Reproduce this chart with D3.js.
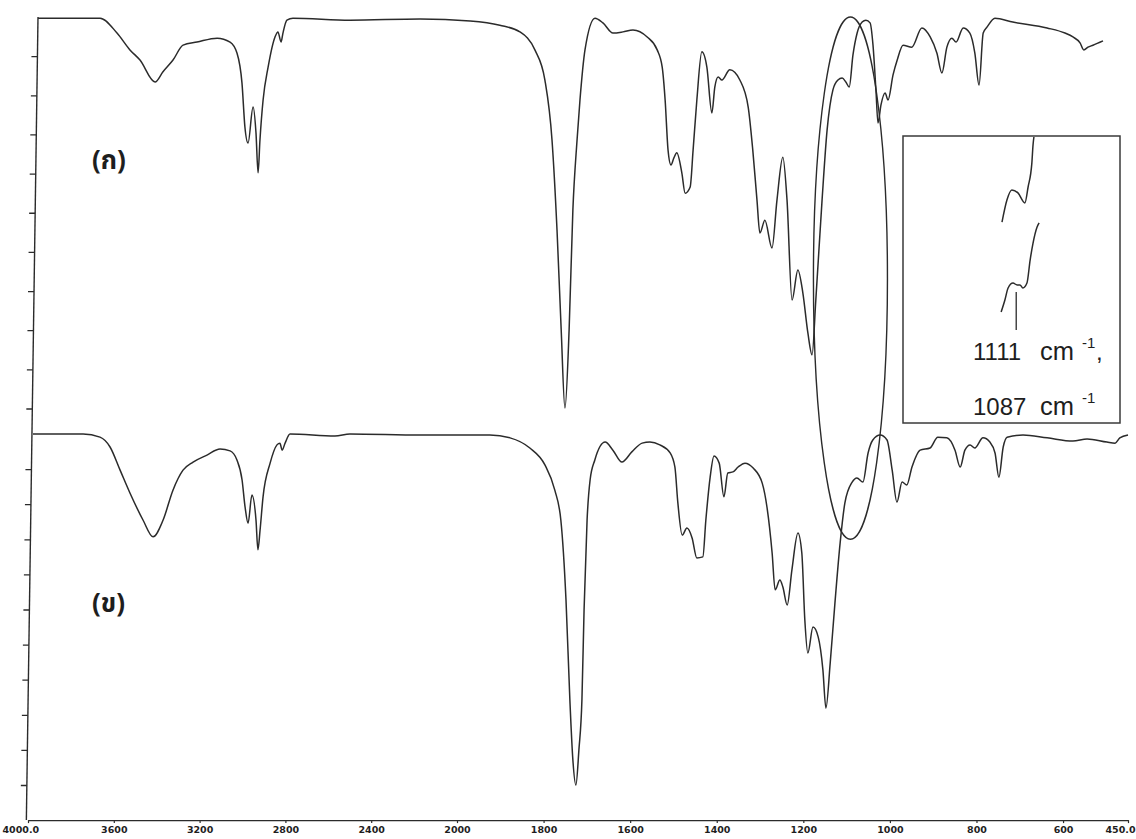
<!DOCTYPE html>
<html>
<head>
<meta charset="utf-8">
<script src="https://cdn.jsdelivr.net/npm/d3@7"></script>
<style>
  html, body { margin: 0; padding: 0; background: #fff; }
  svg { display: block; }
</style>
</head>
<body>
<svg id="chart" width="1136" height="839"></svg>
<script>
// FT-IR spectra, [wavenumber (cm-1), transmittance (%)]
// (ก) upper spectrum
const spectrumA = [
  [4000,99.7],[3847,99.7],[3703,99.7],[3622,95.9],[3560,91.6],[3512,89.0],[3440,83.4],[3402,86.0],
  [3354,89.0],[3306,92.8],[3239,93.6],[3143,94.6],[3081,93.6],[3048,90.8],[3024,83.1],[3010,71.9],
  [2995,67.8],[2971,77.0],[2957,70.4],[2947,60.2],[2938,68.6],[2923,78.8],[2899,87.2],[2866,94.9],
  [2852,96.2],[2837,93.6],[2828,95.9],[2809,99.2],[2780,99.7],[2507,99.2],[2172,99.5],[1966,99.0],
  [1895,97.9],[1847,96.2],[1811,91.6],[1787,83.9],[1770,68.6],[1758,45.6],[1748,20.1],[1739,0.1],
  [1729,20.1],[1720,50.7],[1710,68.6],[1703,78.8],[1691,91.6],[1667,99.7],[1648,98.5],[1624,95.9],
  [1600,96.2],[1576,96.7],[1542,94.9],[1518,91.6],[1506,87.2],[1499,78.8],[1492,66.0],[1485,62.2],
  [1478,64.0],[1471,65.3],[1459,60.2],[1451,55.0],[1439,56.6],[1432,66.0],[1423,78.8],[1411,91.1],
  [1399,87.2],[1387,75.5],[1380,82.1],[1372,84.7],[1363,83.9],[1344,86.5],[1320,83.9],[1300,77.0],
  [1289,66.0],[1279,53.3],[1272,44.8],[1260,48.1],[1243,41.0],[1231,53.3],[1217,64.2],[1207,53.3],
  [1195,27.7],[1181,35.4],[1169,29.5],[1157,19.3],[1147,13.7],[1138,27.7],[1123,53.3],[1111,71.1],
  [1097,81.4],[1085,83.9],[1075,84.4],[1066,83.4],[1058,82.1],[1049,90.3],[1039,95.9],[1027,98.7],
  [1018,99.2],[1008,98.5],[1001,92.8],[994,81.4],[989,72.9],[982,77.5],[972,80.6],[965,78.8],
  [953,85.2],[943,89.0],[929,92.8],[908,92.3],[884,97.2],[864,94.9],[848,90.8],[836,85.7],
  [824,92.3],[812,94.6],[802,93.6],[785,97.2],[769,95.9],[757,90.8],[747,82.6],[737,95.9],
  [728,97.4],[709,99.7],[666,98.7],[584,97.2],[541,95.9],[522,94.9],[505,93.4],[496,91.6],
  [486,92.3],[474,92.8],[450,93.9]
];

// (ข) lower spectrum
const spectrumB = [
  [4000,100],[3766,100],[3687,99.1],[3640,96.3],[3593,89.7],[3547,83.2],[3486,75.5],[3439,70.7],
  [3392,75.5],[3346,84.0],[3299,89.7],[3252,92.0],[3187,94.0],[3126,95.7],[3079,95.2],[3047,92.6],
  [3023,86.9],[3009,79.2],[2995,74.6],[2977,82.6],[2958,75.5],[2949,67.0],[2939,72.6],[2925,82.1],
  [2892,91.7],[2860,96.9],[2846,97.4],[2836,95.4],[2822,97.4],[2799,100],[2589,99.4],[2519,100],
  [2191,99.7],[1933,99.7],[1886,98.9],[1840,96.0],[1805,91.2],[1782,84.0],[1768,75.5],[1756,52.7],
  [1747,24.2],[1740,7.1],[1733,0],[1726,10.0],[1719,24.2],[1714,49.9],[1707,75.5],[1700,86.9],
  [1689,92.6],[1665,97.7],[1647,95.4],[1626,92.0],[1603,94.9],[1579,97.4],[1561,97.7],[1538,96.9],
  [1514,94.6],[1503,90.6],[1496,80.3],[1486,71.2],[1475,73.2],[1463,70.4],[1452,64.7],[1438,65.0],
  [1431,75.5],[1421,87.7],[1412,93.7],[1400,91.7],[1389,82.1],[1380,88.9],[1368,89.2],[1356,90.6],
  [1340,91.7],[1321,90.3],[1300,86.0],[1289,79.2],[1277,66.1],[1270,55.6],[1259,58.4],[1252,56.4],
  [1242,51.3],[1231,61.3],[1217,71.8],[1208,66.1],[1201,47.0],[1194,37.6],[1182,45.0],[1170,42.2],
  [1159,32.8],[1152,21.9],[1142,34.8],[1131,51.9],[1119,68.9],[1108,80.3],[1091,86.3],[1080,87.5],
  [1066,86.3],[1054,94.6],[1043,98.3],[1026,99.7],[1010,98.3],[998,89.7],[987,80.6],[975,86.3],
  [964,85.5],[952,90.6],[933,95.4],[910,96.0],[892,99.1],[871,98.9],[852,95.4],[840,90.6],
  [829,95.4],[817,96.9],[806,96.0],[787,98.9],[771,97.7],[759,94.6],[750,87.7],[740,96.3],
  [731,99.1],[694,99.7],[638,98.9],[578,98.0],[545,98.6],[499,97.7],[480,97.4],[469,98.9],
  [450,99.7]
];

// Enlarged 1160-1030 cm-1 window shown in the inset
const insetUpper = [
  [1160,57.8],[1143,68.6],[1126,73.5],[1105,72.1],[1081,67.2],[1070,75.0],[1057,86.8],[1053,95.6],[1050,99.5]
];
const insetLower = [
  [1163,13.7],[1150,19.6],[1139,25.5],[1122,27.9],[1108,27.0],[1098,27.0],[1088,25.5],[1074,27.9],
  [1063,39.2],[1053,47.5],[1039,55.4],[1032,57.4]
];

const xTickValues = [4000, 3600, 3200, 2800, 2400, 2000, 1800, 1600, 1400, 1200, 1000, 800, 600, 450];
const yTickValues = [0, 10, 20, 30, 40, 50, 60, 70, 80, 90];
const panelLabels = ["(ก)", "(ข)"];
const peakLabels = ["1111", "1087"];
const markedPeak = 1111;

const svg = d3.select("#chart");
const ink = "#2b2b2b";

// Wavenumber axis: 4000-2000 at half the scale of 2000-450
const xAxisScale = d3.scaleLinear().domain([4000, 2000, 450]).range([28, 457, 1128]);
const xA = d3.scaleLinear().domain([4000, 2000, 450]).range([38, 456, 1103]);
const xB = d3.scaleLinear().domain([4000, 2000, 450]).range([33, 461, 1128]);
const yA = d3.scaleLinear().domain([0, 100]).range([408.5, 17]);
const yB = d3.scaleLinear().domain([0, 100]).range([785, 434]);
const axisY = yB(-10);

// Left (transmittance) axis, slightly slanted
const slant = 0.0145;
const yAxisG = svg.append("g")
  .attr("transform", `translate(${38 + slant * yA(100)},0) skewX(${-Math.atan(slant) * 180 / Math.PI})`);
yAxisG.append("line")
  .attr("x1", 0).attr("x2", 0)
  .attr("y1", yA(100)).attr("y2", axisY)
  .attr("stroke", ink).attr("stroke-width", 1.4);
[yA, yB].forEach(sc => {
  const g = yAxisG.append("g")
    .call(d3.axisLeft(sc).tickValues(yTickValues).tickSize(6).tickSizeOuter(0).tickFormat(""));
  g.select(".domain").remove();
  g.selectAll(".tick line").attr("stroke", ink).attr("stroke-width", 1.3);
});

// Bottom wavenumber axis
const xAxisG = svg.append("g")
  .attr("transform", `translate(0,${axisY})`)
  .call(d3.axisBottom(xAxisScale)
    .tickValues(xTickValues)
    .tickSize(3)
    .tickSizeOuter(0)
    .tickPadding(3)
    .tickFormat(d => (d === 4000 || d === 450) ? d3.format(".1f")(d) : String(d)));
xAxisG.select(".domain").attr("stroke", ink).attr("stroke-width", 1.4);
xAxisG.selectAll(".tick line").attr("stroke", ink).attr("stroke-width", 1.2);
xAxisG.selectAll(".tick text")
  .attr("fill", "#1e1e1e")
  .attr("font-family", "'DejaVu Sans', sans-serif")
  .attr("font-weight", "bold")
  .attr("font-size", 9.5);
// keep the end labels inside the frame
xAxisG.selectAll(".tick text")
  .filter(d => d === 450)
  .attr("text-anchor", "end").attr("x", 1135 - xAxisScale(450));
xAxisG.selectAll(".tick text")
  .filter(d => d === 4000)
  .attr("text-anchor", "start").attr("x", 2 - xAxisScale(4000));

// Spectra
const lineA = d3.line().x(d => xA(d[0])).y(d => yA(d[1])).curve(d3.curveMonotoneX);
const lineB = d3.line().x(d => xB(d[0])).y(d => yB(d[1])).curve(d3.curveMonotoneX);

svg.append("path").datum(spectrumA)
  .attr("d", lineA).attr("fill", "none")
  .attr("stroke", ink).attr("stroke-width", 1.5).attr("stroke-linejoin", "round");
svg.append("path").datum(spectrumB)
  .attr("d", lineB).attr("fill", "none")
  .attr("stroke", ink).attr("stroke-width", 1.5).attr("stroke-linejoin", "round");

// Panel labels
const labelFont = "'Noto Sans Thai', 'Noto Sans', 'DejaVu Sans', sans-serif";
svg.append("text").attr("x", 92).attr("y", 169).text(panelLabels[0])
  .attr("font-family", labelFont).attr("font-size", 26).attr("font-weight", "bold").attr("fill", "#1e1e1e");
svg.append("text").attr("x", 92).attr("y", 612).text(panelLabels[1])
  .attr("font-family", labelFont).attr("font-size", 26).attr("font-weight", "bold").attr("fill", "#1e1e1e");

// Ellipse around the 1111 / 1087 cm-1 region of both spectra
const ellTop = yA(100), ellBottom = yB(70);
svg.append("ellipse")
  .attr("cx", xB(1095))
  .attr("cy", (ellTop + ellBottom) / 2)
  .attr("rx", xB(1095) - xB(1181))
  .attr("ry", (ellBottom - ellTop) / 2)
  .attr("fill", "none").attr("stroke", ink).attr("stroke-width", 1.4);

// Inset with the enlarged region
const box = { x: 903, y: 136, w: 217, h: 287 };
svg.append("rect")
  .attr("x", box.x).attr("y", box.y).attr("width", box.w).attr("height", box.h)
  .attr("fill", "none").attr("stroke", "#3a3a3a").attr("stroke-width", 1.5);

const xI = d3.scaleLinear().domain([1160, 1030]).range([1002, 1039.7]);
const yI = d3.scaleLinear().domain([0, 100]).range([340, 136]);
const lineI = d3.line().x(d => xI(d[0])).y(d => yI(d[1])).curve(d3.curveMonotoneX);
[insetUpper, insetLower].forEach(data => {
  svg.append("path").datum(data)
    .attr("d", lineI).attr("fill", "none")
    .attr("stroke", ink).attr("stroke-width", 1.5);
});
svg.append("line")
  .attr("x1", xI(markedPeak)).attr("x2", xI(markedPeak))
  .attr("y1", yI(23.5)).attr("y2", yI(4.9))
  .attr("stroke", ink).attr("stroke-width", 1.3);

const peakFont = "'Liberation Sans', Arial, sans-serif";
[[peakLabels[0], 360, true], [peakLabels[1], 415, false]].forEach(([num, base, comma]) => {
  const t = svg.append("text")
    .attr("font-family", peakFont).attr("font-size", 24).attr("fill", "#1e1e1e");
  t.append("tspan").attr("x", 973).attr("y", base).text(num);
  t.append("tspan").attr("x", 1040).attr("y", base).attr("font-size", 25.5).text("cm");
  t.append("tspan").attr("x", 1082).attr("y", base - 12).attr("font-size", 15).text("-1");
  if (comma) t.append("tspan").attr("x", 1096).attr("y", base).text(",");
});
</script>
</body>
</html>
